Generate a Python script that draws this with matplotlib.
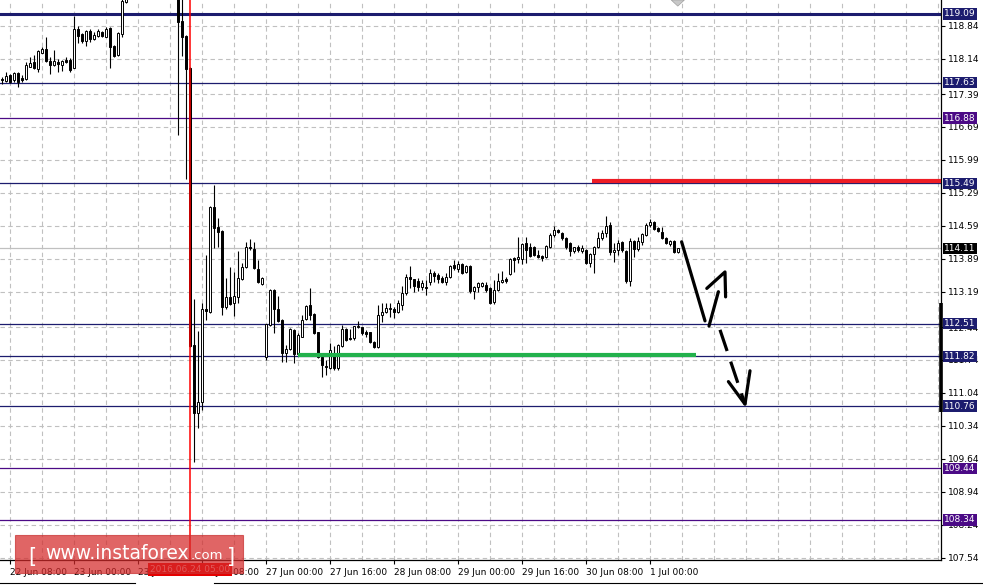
import matplotlib.pyplot as plt
from matplotlib.patches import Rectangle, Polygon
import numpy as np

plt.rcParams['font.family'] = ['DejaVu Sans']

# EURJPY H1 bars, 22 Jun 06:00 .. 1 Jul 03:00 (weekend skipped)
opens = [
    117.70, 117.67, 117.79, 117.69, 117.84, 117.73, 117.71, 117.96, 118.07, 117.92,
    118.26, 118.35, 118.09, 118.01, 118.07, 118.01, 118.11, 118.11, 117.94, 118.77,
    118.67, 118.52, 118.73, 118.56, 118.62, 118.71, 118.60, 118.79, 118.41, 118.22,
    118.67, 119.34, 119.45, 119.58, 119.66, 119.74, 119.82, 119.78, 119.72, 119.90,
    119.96, 119.92, 119.70, 119.62, 119.60, 118.94, 118.62, 117.94, 112.06, 110.61,
    110.85, 112.80, 112.76, 114.99, 114.56, 114.48, 112.87, 113.08, 112.95, 113.08,
    113.46, 113.71, 114.12, 114.10, 113.67, 113.35, 111.80, 112.48, 113.23, 112.82,
    112.59, 111.89, 111.97, 112.38, 111.86, 112.23, 112.61, 112.91, 112.72, 112.33,
    111.80, 111.62, 111.57, 111.89, 111.57, 112.04, 112.40, 112.21, 112.21, 112.44,
    112.44, 112.33, 112.33, 112.12, 112.01, 112.70, 112.76, 112.82, 112.82, 112.76,
    112.91, 113.16, 113.50, 113.46, 113.42, 113.29, 113.29, 113.40, 113.59, 113.54,
    113.48, 113.40, 113.50, 113.76, 113.67, 113.78, 113.61, 113.74, 113.20, 113.29,
    113.31, 113.33, 113.27, 112.97, 113.23, 113.40, 113.46, 113.57, 113.91, 113.89,
    113.89, 114.22, 114.14, 114.14, 113.97, 113.95, 113.93, 114.14, 114.39, 114.50,
    114.44, 114.33, 114.22, 114.05, 114.14, 114.05, 114.08, 113.80, 113.99, 114.14,
    114.33, 114.44, 114.61, 114.03, 114.08, 114.25, 114.05, 113.42, 114.27, 114.10,
    114.25, 114.39, 114.61, 114.67, 114.54, 114.46, 114.33, 114.20, 114.27, 114.03,
]
highs = [
    117.75, 117.86, 117.82, 117.86, 117.86, 117.79, 118.07, 118.18, 118.22, 118.33,
    118.39, 118.60, 118.18, 118.33, 118.13, 118.11, 118.18, 118.15, 119.05, 118.84,
    118.69, 118.75, 118.77, 118.71, 118.77, 118.73, 118.81, 118.81, 118.43, 118.71,
    119.49, 119.51, 119.62, 119.70, 119.80, 119.88, 119.95, 119.90, 119.98, 120.05,
    120.10, 119.98, 119.80, 119.75, 119.70, 119.43, 118.64, 117.96, 113.03, 112.36,
    112.95, 113.97, 115.01, 115.46, 114.76, 114.50, 113.48, 113.71, 113.61, 114.05,
    113.80, 114.25, 114.31, 114.25, 113.86, 113.50, 112.51, 113.25, 113.24, 113.10,
    112.60, 112.06, 112.42, 112.39, 112.31, 112.70, 112.90, 113.27, 112.74, 112.34,
    111.82, 111.74, 112.10, 112.04, 112.07, 112.48, 112.41, 112.40, 112.47, 112.57,
    112.45, 112.38, 112.34, 112.14, 112.91, 112.95, 112.95, 112.95, 112.86, 113.01,
    113.31, 113.57, 113.74, 113.47, 113.48, 113.44, 113.44, 113.67, 113.63, 113.59,
    113.52, 113.59, 113.76, 113.86, 113.84, 113.79, 113.76, 113.75, 113.31, 113.40,
    113.40, 113.40, 113.28, 113.44, 113.59, 113.63, 113.50, 113.91, 113.93, 114.35,
    114.22, 114.35, 114.22, 114.16, 114.08, 113.97, 114.18, 114.44, 114.59, 114.52,
    114.46, 114.35, 114.25, 114.15, 114.18, 114.18, 114.09, 114.01, 114.16, 114.46,
    114.50, 114.80, 114.67, 114.22, 114.29, 114.27, 114.08, 114.33, 114.29, 114.35,
    114.44, 114.65, 114.73, 114.69, 114.56, 114.56, 114.35, 114.29, 114.28, 114.12,
]
lows = [
    117.60, 117.64, 117.62, 117.64, 117.54, 117.64, 117.69, 117.96, 117.92, 117.86,
    118.26, 118.07, 117.82, 117.98, 117.86, 117.88, 118.05, 117.86, 117.94, 118.47,
    118.47, 118.41, 118.49, 118.54, 118.60, 118.60, 118.60, 117.94, 118.18, 118.20,
    118.60, 119.32, 119.42, 119.50, 119.60, 119.65, 119.70, 119.66, 119.60, 119.80,
    119.85, 119.55, 119.45, 119.42, 116.52, 118.20, 115.58, 112.02, 109.57, 110.29,
    110.68, 112.59, 112.74, 114.12, 114.14, 112.70, 112.82, 112.91, 112.67, 112.95,
    113.44, 113.69, 114.08, 113.67, 113.37, 113.33, 111.74, 112.46, 112.31, 112.55,
    111.70, 111.70, 111.95, 111.67, 111.84, 112.22, 112.59, 112.59, 112.29, 111.78,
    111.38, 111.42, 111.55, 111.53, 111.53, 112.01, 112.14, 112.16, 112.16, 112.42,
    112.27, 112.23, 112.10, 111.99, 112.00, 112.55, 112.74, 112.65, 112.63, 112.74,
    112.80, 113.12, 113.27, 113.18, 113.20, 113.23, 113.12, 113.33, 113.40, 113.37,
    113.37, 113.33, 113.48, 113.65, 113.61, 113.57, 113.59, 113.16, 113.03, 113.18,
    113.29, 113.18, 112.93, 112.93, 113.20, 113.37, 113.37, 113.54, 113.61, 113.80,
    113.78, 113.80, 113.93, 113.95, 113.91, 113.84, 113.91, 114.12, 114.35, 114.44,
    114.29, 114.10, 113.95, 114.01, 114.03, 114.01, 113.78, 113.71, 113.59, 114.12,
    114.29, 114.35, 113.97, 113.82, 113.97, 114.03, 113.37, 113.31, 113.93, 114.05,
    114.18, 114.37, 114.56, 114.50, 114.46, 114.31, 114.20, 114.16, 114.01, 114.01,
]
closes = [
    117.68, 117.77, 117.64, 117.84, 117.64, 117.69, 118.01, 118.05, 117.94, 118.30,
    118.35, 118.09, 118.01, 118.09, 118.03, 118.09, 118.07, 117.90, 118.77, 118.62,
    118.52, 118.73, 118.56, 118.64, 118.73, 118.62, 118.77, 118.39, 118.20, 118.69,
    119.37, 119.45, 119.58, 119.66, 119.74, 119.82, 119.78, 119.72, 119.90, 119.96,
    119.92, 119.70, 119.62, 119.60, 118.92, 118.60, 117.92, 112.04, 110.61, 110.85,
    112.82, 112.79, 114.99, 114.54, 114.46, 112.87, 113.08, 112.93, 113.10, 113.48,
    113.71, 114.14, 114.11, 113.69, 113.40, 113.48, 112.50, 113.23, 112.82, 112.57,
    111.89, 111.97, 112.40, 111.86, 112.27, 112.59, 112.89, 112.70, 112.31, 111.80,
    111.63, 111.60, 111.95, 111.57, 112.06, 112.40, 112.16, 112.19, 112.46, 112.46,
    112.31, 112.29, 112.12, 112.01, 112.70, 112.76, 112.84, 112.84, 112.76, 112.95,
    113.16, 113.50, 113.46, 113.31, 113.29, 113.37, 113.27, 113.59, 113.52, 113.46,
    113.40, 113.50, 113.74, 113.69, 113.78, 113.59, 113.74, 113.20, 113.29, 113.37,
    113.37, 113.23, 112.95, 113.23, 113.42, 113.44, 113.42, 113.89, 113.86, 113.93,
    114.20, 114.08, 113.95, 113.97, 113.93, 113.91, 114.16, 114.39, 114.50, 114.46,
    114.33, 114.14, 114.05, 114.14, 114.08, 114.12, 113.80, 113.99, 114.14, 114.33,
    114.44, 114.59, 114.03, 114.08, 114.22, 114.08, 113.42, 114.27, 114.10, 114.27,
    114.42, 114.61, 114.67, 114.52, 114.48, 114.33, 114.22, 114.27, 114.03, 114.11,
]

# time axis labels, one every 16 bars starting at bar 2
time_labels = ['22 Jun 08:00', '23 Jun 00:00', '23 Jun 16:00', '24 Jun 08:00',
               '27 Jun 00:00', '27 Jun 16:00', '28 Jun 08:00', '29 Jun 00:00',
               '29 Jun 16:00', '30 Jun 08:00', '1 Jul 00:00']
price_labels = ['118.84', '118.14', '117.39', '116.69', '115.99', '115.29', '114.59',
                '113.89', '113.19', '112.44', '111.74', '111.04', '110.34', '109.64',
                '108.94', '108.24', '107.54']

# horizontal levels
level_prices = [119.09, 117.63, 116.88, 115.49, 112.51, 111.82, 110.76, 109.44, 108.34]
level_colors = ['#1c1c6e', '#1c1c6e', '#4b0a86', '#1c1c6e', '#1c1c6e', '#1c1c6e',
                '#1c1c6e', '#4b0a86', '#4b0a86']
bid_price = 114.11
marked_bar = 47          # 2016.06.24 05:00
resistance = 115.54
support = 111.85

# hand drawn forecast (bar index, price)
stroke_down_x = [169.9, 175.75]
stroke_down_y = [114.25, 112.57]
stroke_up_x = [176.75, 179.1]
stroke_up_y = [112.46, 113.19]
head_up_x = [176.2, 180.75, 180.9]
head_up_y = [113.26, 113.61, 113.08]
dash_x = [179.5, 185.75]
dash_y = [112.38, 110.80]
head_down_x = [181.6, 185.75, 187.0]
head_down_y = [111.28, 110.80, 111.51]

W, H = 983, 585
fig = plt.figure(figsize=(W / 100, H / 100), dpi=100)
ax = fig.add_axes([0, 25 / H, 941 / W, 560 / H])
x_left, x_right = -0.5, 234.75
y_low, y_high = 107.49, 119.387
ax.set_xlim(x_left, x_right)
ax.set_ylim(y_low, y_high)

grid_c = '#c0c0c0'
# grid
for gx in np.arange(2, x_right, 8):
    ax.axvline(gx, color=grid_c, lw=0.8, ls=(0, (4, 3)), zorder=0)
for lab in price_labels:
    ax.axhline(float(lab), color=grid_c, lw=0.8, ls=(0, (4, 3)), zorder=0)

# levels
for p, c in zip(level_prices, level_colors):
    ax.axhline(p, color=c, lw=2.2 if p == 119.09 else 0.9, zorder=1.5)
ax.axhline(bid_price, color=grid_c, lw=0.9, zorder=1.4)

# candles
for i, (o, h, l, c) in enumerate(zip(opens, highs, lows, closes)):
    ax.plot([i, i], [l, h], color='black', lw=0.8, zorder=3, solid_capstyle='butt')
    bottom = min(o, c)
    height = max(abs(c - o), 0.022)
    ax.add_patch(Rectangle((i - 0.37, bottom), 0.74, height,
                           fc='white' if c >= o else 'black', ec='black', lw=0.7, zorder=4))

# support / resistance segments
ax.plot([147.5, x_right], [resistance, resistance], color='#ee1c25', lw=3.0,
        solid_capstyle='butt', zorder=5)
ax.plot([74, 173.5], [support, support], color='#22b14c', lw=3.0,
        solid_capstyle='butt', zorder=5)

# vertical marker line
ax.axvline(marked_bar, color='#ff0000', lw=1.1, zorder=6)

# forecast arrows
kw = dict(color='black', lw=2.3, solid_capstyle='round', solid_joinstyle='round', zorder=7)
ax.plot(stroke_down_x, stroke_down_y, **kw)
ax.plot(stroke_up_x, stroke_up_y, **kw)
ax.plot(head_up_x, head_up_y, **kw)
ax.plot(head_down_x, head_down_y, **kw)
ax.plot(dash_x, dash_y, color='black', lw=2.3, ls=(0, (7, 3.5)), zorder=7)

# shift marker at the top
ax.add_patch(Polygon([[167.3, y_high], [170.6, y_high], [168.95, y_high - 0.13]],
                     closed=True, fc='#c8c8c8', ec='#a0a0a0', lw=0.5, clip_on=False, zorder=8))

# axes styling
for s in ['left', 'top']:
    ax.spines[s].set_visible(False)
for s in ['right', 'bottom']:
    ax.spines[s].set_color('black')
    ax.spines[s].set_linewidth(0.9)
ax.yaxis.tick_right()
ax.set_yticks([float(v) for v in price_labels])
ax.set_yticklabels(price_labels)
ax.tick_params(axis='y', length=3, width=0.8, pad=2, labelsize=6.5, colors='black')
xt = [2 + 16 * k for k in range(len(time_labels))]
ax.set_xticks(xt)
ax.set_xticklabels(time_labels, ha='left')
ax.tick_params(axis='x', length=3, width=0.8, pad=3, labelsize=6.5, colors='black')

# price boxes on the scale
ytr = ax.get_yaxis_transform()
for p, c in zip(level_prices, level_colors):
    ax.text(1.0035, p, f'{p:.2f}', transform=ytr, color='white', fontsize=6.5,
            va='center', ha='left', clip_on=False, zorder=10,
            bbox=dict(boxstyle='square,pad=0.12', fc=c, ec='none'))
ax.text(1.0035, bid_price, f'{bid_price:.2f}', transform=ytr, color='white', fontsize=6.5,
        va='center', ha='left', clip_on=False, zorder=10,
        bbox=dict(boxstyle='square,pad=0.12', fc='black', ec='none'))

# black bar on the scale
ax.plot([x_right, x_right], [110.63, 112.95], color='black', lw=2.6, clip_on=False,
        solid_capstyle='butt', zorder=9)

# date label of the marker line
ax.text(marked_bar, -0.017, '2016.06.24 05:00', transform=ax.get_xaxis_transform(),
        color='#ffd0d0', fontsize=6.5, ha='center', va='center', clip_on=False, zorder=11,
        bbox=dict(boxstyle='square,pad=0.2', fc='#e60000', ec='none'))

# watermark
fig.patches.append(Rectangle((15 / W, 1 - 573 / H), 228 / W, 38 / H, transform=fig.transFigure,
                             fc='#d42a2a', ec='#c83030', alpha=0.72, lw=0.8, zorder=20))
base = 1 - 559 / H
fig.text(28 / W, base - 0.006, '[', color='white', fontsize=15, va='baseline', zorder=21)
fig.text(45 / W, base, 'www.instaforex', color='white', fontsize=13.5, va='baseline', zorder=21)
fig.text(191 / W, base, '.com', color='white', fontsize=9.5, va='baseline', zorder=21)
fig.text(227 / W, base - 0.006, ']', color='white', fontsize=15, va='baseline', zorder=21)

# window border at the bottom
fig.add_artist(plt.Line2D([0, 135 / W], [1 - 583 / H] * 2, color='black', lw=0.8,
                          transform=fig.transFigure))
fig.add_artist(plt.Line2D([214 / W, 1], [1 - 583 / H] * 2, color='black', lw=0.8,
                          transform=fig.transFigure))

fig.savefig('out.png', dpi=100)
